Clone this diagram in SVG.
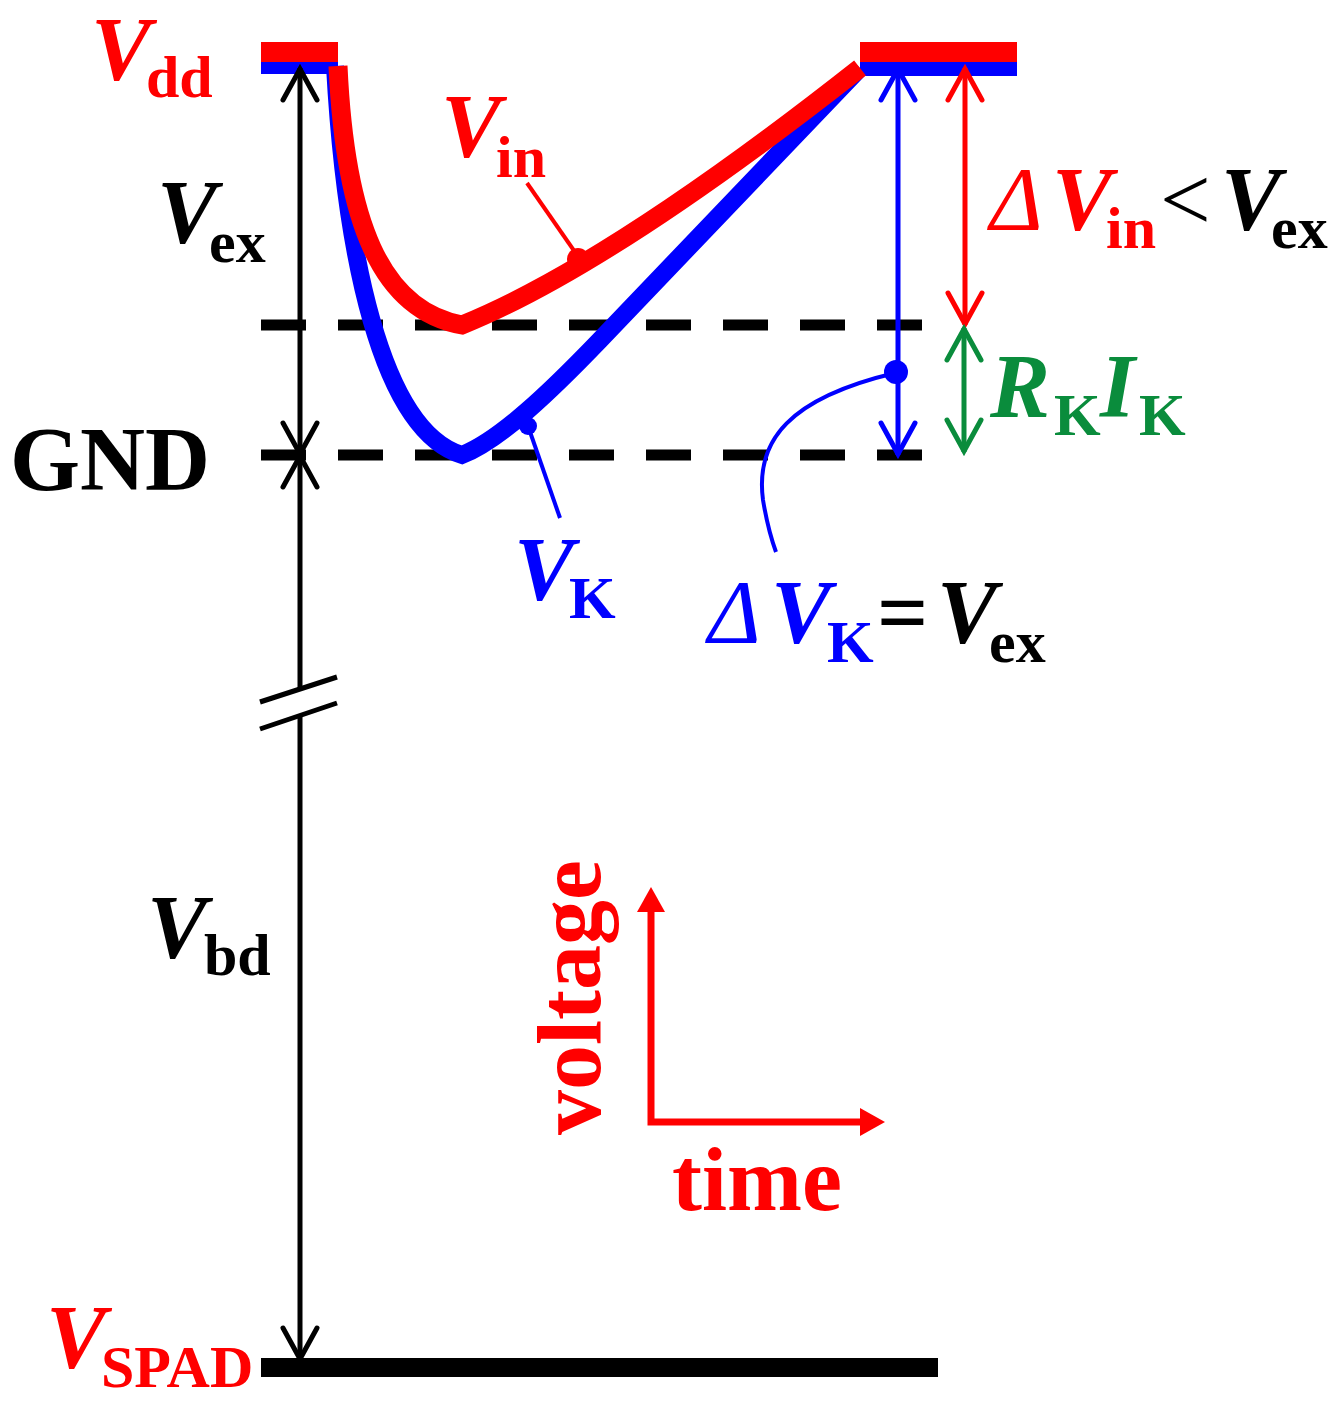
<svg xmlns="http://www.w3.org/2000/svg" width="1339" height="1419" viewBox="0 0 1339 1419">
<style>
text{font-family:"Liberation Serif","Times New Roman",serif}
.v{font-style:italic;font-weight:bold;font-size:90px}
.d{font-style:italic;font-weight:normal;font-size:90px}
.s{font-weight:bold;font-size:60px}
.b{font-weight:bold;font-size:90px}
.red{fill:#ff0000}.blue{fill:#0000ff}.blk{fill:#000}.grn{fill:#0a8c3c}
.dash{stroke:#000;stroke-width:11;stroke-dasharray:45 32;fill:none}
</style>
<defs>
<marker id="ak" markerUnits="userSpaceOnUse" viewBox="-40 -25 50 50" markerWidth="50" markerHeight="50" refX="0" refY="0" orient="auto-start-reverse" overflow="visible"><path d="M-32,-17 L-1,0 L-32,17" fill="none" stroke="#000" stroke-width="5" stroke-linecap="round"/></marker>
<marker id="ab" markerUnits="userSpaceOnUse" viewBox="-40 -25 50 50" markerWidth="50" markerHeight="50" refX="0" refY="0" orient="auto-start-reverse" overflow="visible"><path d="M-32,-17 L-1,0 L-32,17" fill="none" stroke="#0000ff" stroke-width="5" stroke-linecap="round"/></marker>
<marker id="ar" markerUnits="userSpaceOnUse" viewBox="-40 -25 50 50" markerWidth="50" markerHeight="50" refX="0" refY="0" orient="auto-start-reverse" overflow="visible"><path d="M-32,-17 L-1,0 L-32,17" fill="none" stroke="#ff0000" stroke-width="5" stroke-linecap="round"/></marker>
<marker id="ag" markerUnits="userSpaceOnUse" viewBox="-40 -25 50 50" markerWidth="50" markerHeight="50" refX="0" refY="0" orient="auto-start-reverse" overflow="visible"><path d="M-32,-17 L-1,0 L-32,17" fill="none" stroke="#0a8c3c" stroke-width="5" stroke-linecap="round"/></marker>
<marker id="af" markerUnits="userSpaceOnUse" viewBox="-40 -25 50 50" markerWidth="50" markerHeight="50" refX="0" refY="0" orient="auto-start-reverse" overflow="visible"><path d="M-13,-14 L12,0 L-13,14 Z" fill="#ff0000"/></marker>
</defs>

<g id="levels">
<rect x="261" y="42" width="77" height="20" fill="#ff0000"/>
<rect x="261" y="62" width="77" height="12" fill="#0000ff"/>
<rect x="860" y="42" width="157" height="20" fill="#ff0000"/>
<rect x="860" y="62" width="157" height="14" fill="#0000ff"/>
<rect x="261" y="1358" width="677" height="19" fill="#000"/>
<path class="dash" d="M261,325 H922"/>
<path class="dash" d="M261,455 H922"/>
</g>

<g id="curves">
<path id="vk-curve" d="M335,66 C345,250 380,430 462,455 C500,440 550,392 600,340 L860,68" fill="none" stroke="#0000ff" stroke-width="18" stroke-linejoin="miter"/>
<path id="vin-curve" d="M338,66 C345,220 380,310 462,325 Q610,265 860,68" fill="none" stroke="#ff0000" stroke-width="19" stroke-linejoin="miter"/>
</g>

<g id="connectors">
<path d="M300,455 V68" stroke="#000" stroke-width="5" fill="none" marker-start="url(#ak)" marker-end="url(#ak)"/>
<path d="M300,455 V689" stroke="#000" stroke-width="5" fill="none" marker-start="url(#ak)"/>
<path d="M300,716 V1360" stroke="#000" stroke-width="5" fill="none" marker-end="url(#ak)"/>
<path d="M260,702 L337,677 M260,729 L337,703" stroke="#000" stroke-width="5" fill="none"/>
<path d="M898,455 V68" stroke="#0000ff" stroke-width="5" fill="none" marker-start="url(#ab)" marker-end="url(#ab)"/>
<path d="M965,68 V325" stroke="#ff0000" stroke-width="5" fill="none" marker-start="url(#ar)" marker-end="url(#ar)"/>
<path d="M964,328 V452" stroke="#0a8c3c" stroke-width="5" fill="none" marker-start="url(#ag)" marker-end="url(#ag)"/>
<path d="M527,183 L577,255" stroke="#ff0000" stroke-width="4" fill="none"/>
<circle cx="578" cy="259" r="11" fill="#ff0000"/>
<path d="M528,426 L560,518" stroke="#0000ff" stroke-width="4" fill="none"/>
<circle cx="528" cy="426" r="9" fill="#0000ff"/>
<path d="M895,373 C790,398 755,440 763,500 Q768,530 776,552" stroke="#0000ff" stroke-width="4" fill="none"/>
<circle cx="896" cy="372" r="12" fill="#0000ff"/>
<path d="M651,899 V1122 H873" stroke="#ff0000" stroke-width="7" fill="none" marker-start="url(#af)" marker-end="url(#af)"/>
</g>

<g id="labels">
<text id="vdd" class="red"><tspan class="v" x="91" y="80">V</tspan><tspan class="s" x="146" y="97">dd</tspan></text>
<text id="vin" class="red"><tspan class="v" x="441" y="157">V</tspan><tspan class="s" x="496" y="177">in</tspan></text>
<text id="vex" class="blk"><tspan class="v" x="157" y="243">V</tspan><tspan class="s" x="209" y="262">ex</tspan></text>
<text id="gnd" class="b blk" x="10" y="490">GND</text>
<text id="vk" class="blue"><tspan class="v" x="514" y="600">V</tspan><tspan class="s" x="569" y="618">K</tspan></text>
<text id="dvin"><tspan class="d red" x="990" y="230">Δ</tspan><tspan class="v red" x="1052" y="230">V</tspan><tspan class="s red" x="1106" y="248">in</tspan><tspan class="blk" style="font-size:90px" x="1160" y="230">&lt;</tspan><tspan class="v blk" x="1221" y="230">V</tspan><tspan class="s blk" x="1271" y="248">ex</tspan></text>
<text id="rkik" class="grn"><tspan class="v" x="990" y="417">R</tspan><tspan class="s" x="1054" y="435">K</tspan><tspan class="v" x="1100" y="417">I</tspan><tspan class="s" x="1139" y="435">K</tspan></text>
<text id="dvk"><tspan class="d blue" x="708" y="643">Δ</tspan><tspan class="v blue" x="771" y="643">V</tspan><tspan class="s blue" x="827" y="662">K</tspan><tspan class="b blk" x="877" y="643">=</tspan><tspan class="v blk" x="937" y="643">V</tspan><tspan class="s blk" x="989" y="662">ex</tspan></text>
<text id="vbd" class="blk"><tspan class="v" x="147" y="958">V</tspan><tspan class="s" x="204" y="975">bd</tspan></text>
<text id="vspad" class="red"><tspan class="v" x="46" y="1368">V</tspan><tspan class="s" x="101" y="1387">SPAD</tspan></text>
<text id="voltage" class="b red" transform="translate(600,1135) rotate(-90)">voltage</text>
<text id="time" class="b red" x="672" y="1210">time</text>
</g>
</svg>
